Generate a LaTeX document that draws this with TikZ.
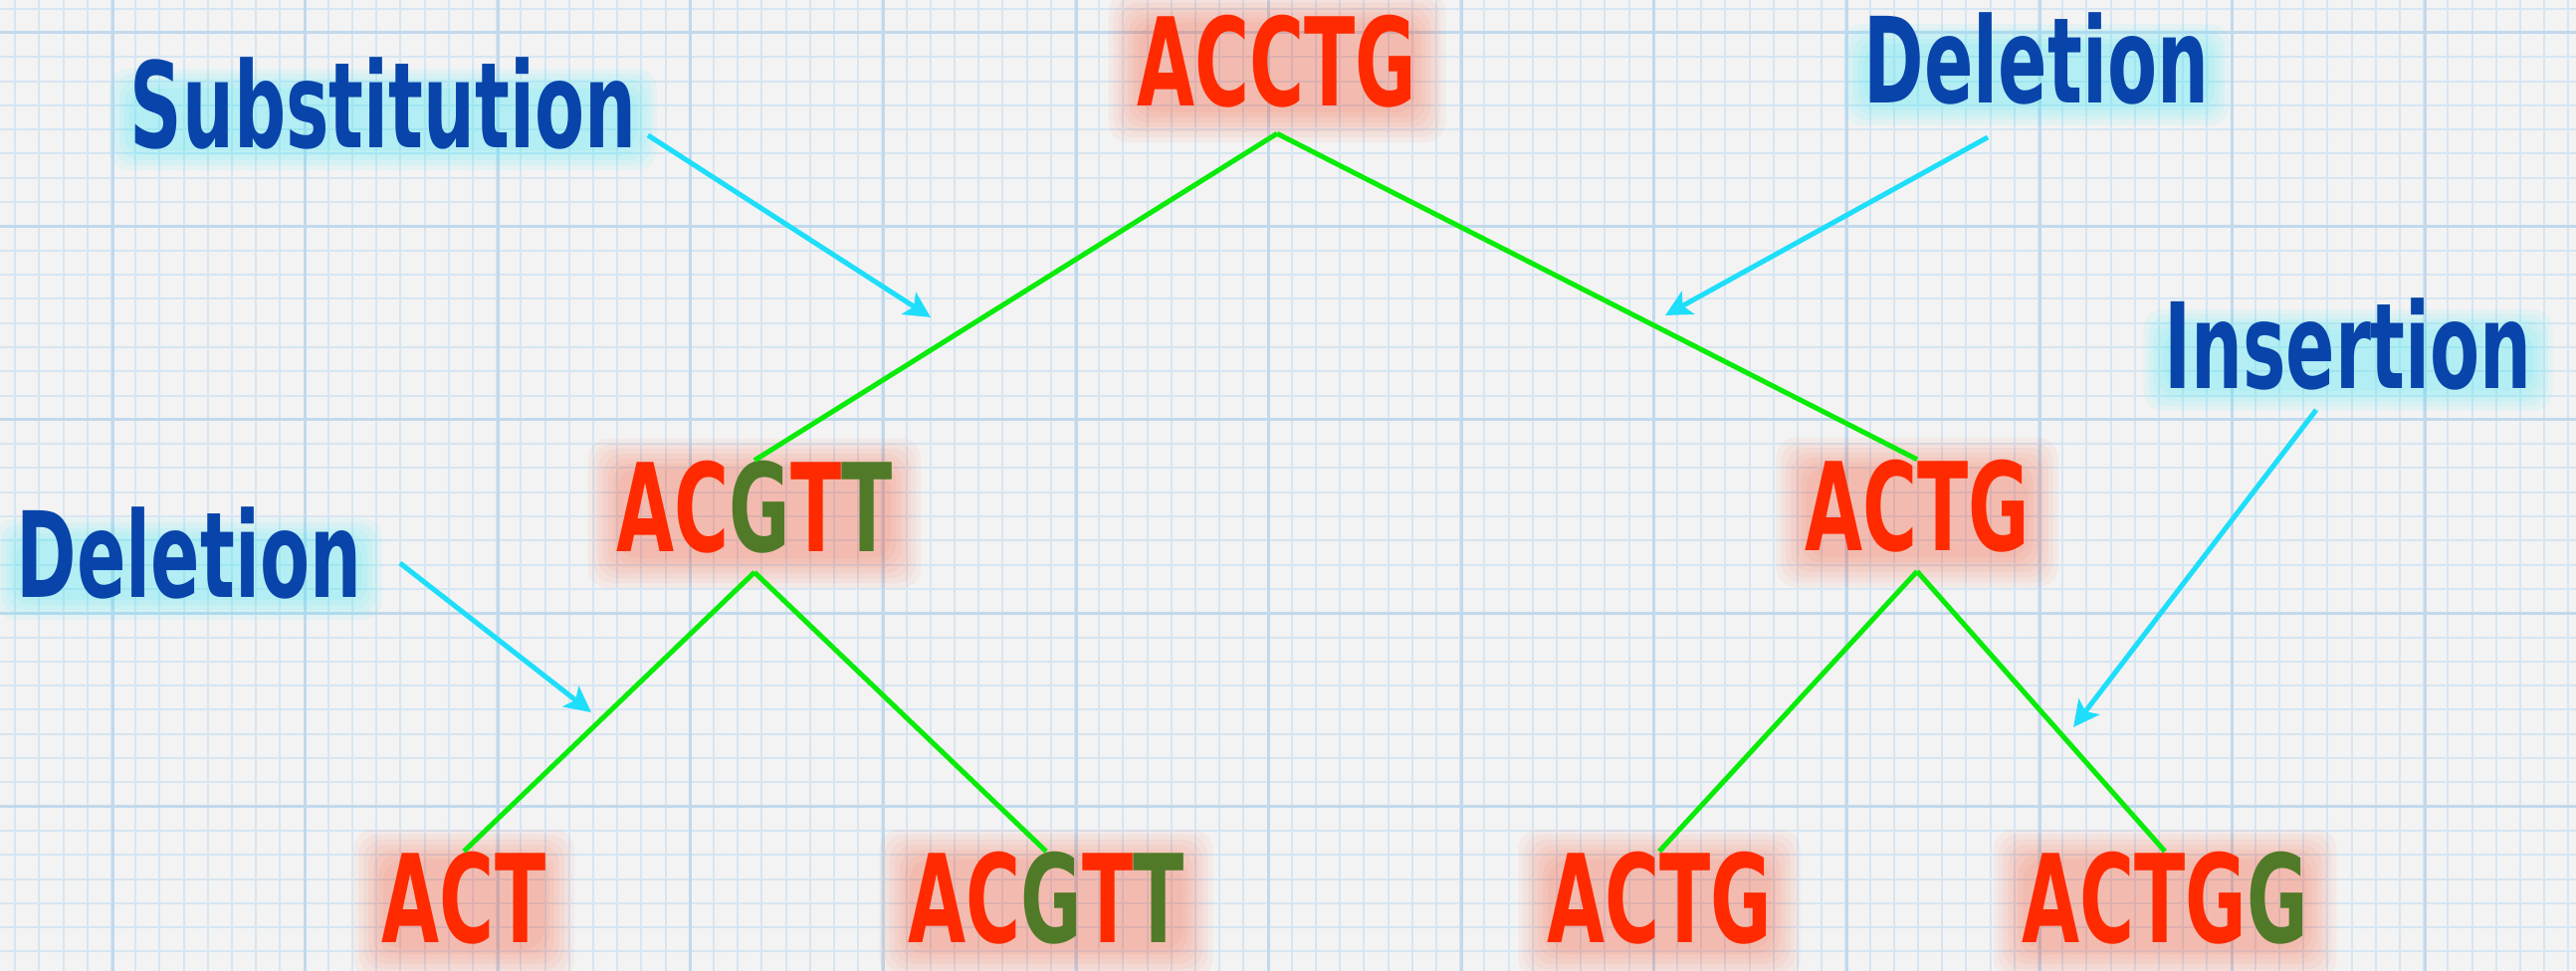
\documentclass[tikz,border=0pt]{standalone}
\usepackage{fontspec}
\newfontfamily\hand{DejaVu Sans}[FakeStretch=0.61]
\usetikzlibrary{arrows.meta,calc,backgrounds}

\definecolor{dnared}{RGB}{255,42,0}
\definecolor{dnagreen}{RGB}{80,122,40}
\definecolor{tagblue}{RGB}{8,68,170}
\definecolor{pointcyan}{RGB}{30,222,250}
\definecolor{glowcyan}{RGB}{60,235,250}
\definecolor{branchgreen}{RGB}{10,235,10}
\definecolor{paper}{RGB}{243,243,243}
\definecolor{gridfine}{RGB}{214,230,242}
\definecolor{gridmajor}{RGB}{194,217,236}

\newcommand{\mut}[1]{\textcolor{dnagreen}{#1}}

\begin{document}
\begin{tikzpicture}[x=0.01cm, y=-0.01cm,
        dna/.style={inner sep=0pt, text=dnared, font=\hand\bfseries\fontsize{35}{42}\selectfont},
        tag/.style={inner sep=0pt, text=tagblue, font=\hand\bfseries\fontsize{34}{40}\selectfont},
        branch/.style={draw=branchgreen, line width=0.05cm},
        pointer/.style={draw=pointcyan, line width=0.05cm, -{Stealth[length=0.26cm, width=0.26cm, inset=0.06cm]}}]

        \useasboundingbox (0,0) rectangle (2588,976);
        \clip (0,0) rectangle (2588,976);

        % Paper
        \begin{scope}[on background layer]
            \fill[paper] (0,0) rectangle (2588,976);
            \foreach \x in {15.2,39.4,...,2588} \draw[gridfine, line width=0.02cm] (\x,0) -- (\x,976);
            \foreach \y in {8.7,33,...,976} \draw[gridfine, line width=0.02cm] (0,\y) -- (2588,\y);
            \foreach \x in {113,306.6,...,2588} \draw[gridmajor, line width=0.03cm] (\x,0) -- (\x,976);
            \foreach \y in {33,227.4,...,976} \draw[gridmajor, line width=0.03cm] (0,\y) -- (2588,\y);
        \end{scope}

        % Nodes
        \node (root) [dna] at (1283,62) {ACCTG};
        \node (mid1) [dna] at (758,510) {AC\mut{G}T\mut{T}};
        \node (mid2) [dna] at (1926,509) {ACTG};
        \node (leaf1) [dna] at (466,903) {ACT};
        \node (leaf2) [dna] at (1051,903) {AC\mut{G}T\mut{T}};
        \node (leaf3) [dna] at (1667,903) {ACTG};
        \node (leaf4) [dna] at (2175,903) {ACTG\mut{G}};

        % Labels
        \node (subst) [tag] at (385,104) {Substitution};
        \node (delR) [tag] at (2046,59) {Deletion};
        \node (ins) [tag] at (2359,346) {Insertion};
        \node (delL) [tag] at (190,556) {Deletion};

        \coordinate (subst-tip) at (935,319);
        \coordinate (delR-tip) at (1673,317);
        \coordinate (ins-tip) at (2083,731);
        \coordinate (delL-tip) at (594,716);

        % Glow
        \begin{scope}[on background layer]
            \foreach \n in {root,mid1,mid2,leaf1,leaf2,leaf3,leaf4}
                \foreach \r in {-2,3,8,13,18,23,28}
                    \fill[dnared, fill opacity=0.045, rounded corners=0.2cm]
                        ($(\n.south west)+(-\r,\r+6)$) rectangle ($(\n.north east)+(\r,6-\r)$);
            \foreach \n in {subst,delR,ins,delL}
                \foreach \r in {0,5,10,15,20}
                    \fill[glowcyan, fill opacity=0.08, rounded corners=0.2cm]
                        ($(\n.south west)+(-\r,\r)$) rectangle ($(\n.north east)+(\r,32-\r)$);
        \end{scope}

        % Edges
        \draw[branch] ($(root.south)+(0,25)$) -- (mid1.north);
        \draw[branch] ($(root.south)+(0,25)$) -- (mid2.north);
        \draw[branch] ($(mid1.south)+(0,18)$) -- (leaf1.north);
        \draw[branch] ($(mid1.south)+(0,18)$) -- (leaf2.north);
        \draw[branch] ($(mid2.south)+(0,18)$) -- (leaf3.north);
        \draw[branch] ($(mid2.south)+(0,18)$) -- (leaf4.north);

        \draw[pointer] ($(subst.south east)+(11,-15)$) -- (subst-tip);
        \draw[pointer] ($(delR.south)+(-49,32)$) -- (delR-tip);
        \draw[pointer] ($(ins.south)+(-32,19)$) -- (ins-tip);
        \draw[pointer] ($(delL.east)+(38,10)$) -- (delL-tip);
    \end{tikzpicture}
\end{document}
